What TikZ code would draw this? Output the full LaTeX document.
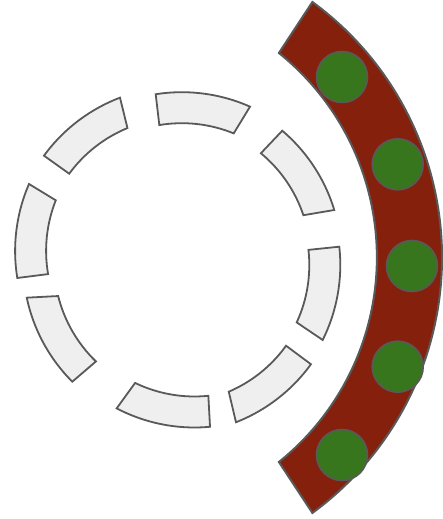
\documentclass[tikz,border=0pt]{standalone}
\usepackage{tikz}
\definecolor{bandred}{HTML}{85200C}
\definecolor{dotgreen}{HTML}{38761D}
\definecolor{edgegray}{HTML}{595959}
\definecolor{segfill}{HTML}{EFEFEF}
\tikzset{
  ringseg/.style={draw=edgegray, fill=segfill, line width=1.8pt, line join=miter},
  bandshape/.style={draw=edgegray, fill=bandred, line width=2pt, line join=miter},
  dot/.style={circle, draw=edgegray, fill=dotgreen, line width=1.6pt, minimum size=51pt, inner sep=0pt}
}
\begin{document}
\begin{tikzpicture}[x=1pt,y=1pt]
\useasboundingbox (0,0) rectangle (443,519);
% dashed ring of segments (each with its own centre)
\foreach \cx/\cy/\oa/\ob/\ia/\ib in {
  181.85/258.8/66.06/98.96/67.76/99.47,
  173.5/260.25/16.87/49.65/18.53/50.36,
  172.3/253.9/-26.47/6.29/-24.74/6.38,
  174.8/253.2/-68.64/-35.87/-66.8/-35.7,
  194.5/259.5/-117.6/-84.7/-115.7/-84.2,
  191.1/256.1/-168.05/-135/-166/-134,
  183.1/268.1/156.53/189.28/158.33/189.75,
  179.7/264.3/110.82/143.89/112.42/143.76}{
  \draw[ringseg] ([shift={(\cx,\cy)}]\oa:168) arc[start angle=\oa, end angle=\ob, radius=168]
     -- ([shift={(\cx,\cy)}]\ib:137) arc[start angle=\ib, end angle=\ia, radius=137] -- cycle;
}
% red band
\draw[bandshape] (278.9,466) -- (312.4,517) arc[start angle=53.8, end angle=-53.8, radius=316.6]
  -- (278.9,57) arc[start angle=-51.2, end angle=51.2, radius=262.4] -- cycle;
% green dots
\node[dot] (d1) at (342,442) {};
\node[dot] (d2) at (397.7,354.7) {};
\node[dot] (d3) at (412,253) {};
\node[dot] (d4) at (397.7,152.3) {};
\node[dot] (d5) at (342,64) {};
\end{tikzpicture}
\end{document}
